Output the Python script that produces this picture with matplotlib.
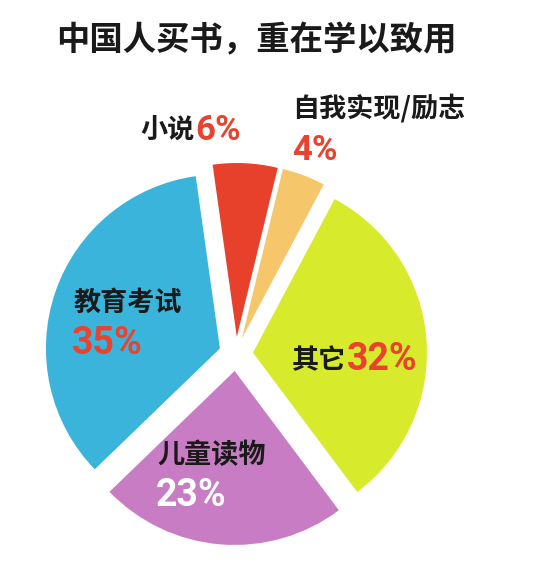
import matplotlib
matplotlib.use('Agg')
import matplotlib.pyplot as plt

# ---- data ----
categories = ['小说', '自我实现/励志', '其它', '儿童读物', '教育考试']
shares = [6, 4, 32, 23, 35]
pct_labels = ['6%', '4%', '32%', '23%', '35%']
colors = ['#E8412B', '#F6C66B', '#D8EA2C', '#C87CC4', '#3BB4DB']
title = '中国人买书，重在学以致用'

W, H = 547, 582
CJK = ['Noto Sans CJK SC', 'DejaVu Sans']
NUM = ['Roboto', 'DejaVu Sans']
RED = '#E8432E'

fig = plt.figure(figsize=(W / 100, H / 100), dpi=100)
fig.patch.set_facecolor('white')
ax = fig.add_axes([0, 0, 1, 1])
ax.pie(shares, colors=colors, startangle=98, counterclock=False,
       center=(236, H - 354), radius=174, explode=[17] * len(shares),
       frame=True, wedgeprops=dict(linewidth=0))
ax.set_xlim(0, W)
ax.set_ylim(0, H)
ax.set_aspect('equal')
ax.axis('off')


def T(x, y, s, color='#1a1a1a', size=19.5, fam=CJK, ha='left'):
    ax.text(x, H - y, s, color=color, fontsize=size, family=fam,
            fontweight='bold', ha=ha, va='center')


fig.text(256 / W, 1 - 41 / H, title, ha='center', va='center',
         fontsize=24, family=CJK, fontweight='bold', color='#1a1a1a')

# 小说
T(140, 130, categories[0])
T(195, 131, pct_labels[0], color=RED, size=25, fam=NUM)
# 自我实现/励志
T(292, 108, categories[1])
T(292, 150, pct_labels[1], color=RED, size=25, fam=NUM)
# 其它
T(292, 360, categories[2])
T(347, 360, pct_labels[2], color=RED, size=27, fam=NUM)
# 儿童读物
T(157, 455, categories[3])
T(156, 496, pct_labels[3], color='white', size=27, fam=NUM)
# 教育考试
T(74, 303, categories[4])
T(72, 343, pct_labels[4], color=RED, size=27, fam=NUM)

fig.savefig('out.png', dpi=100, facecolor='white')
